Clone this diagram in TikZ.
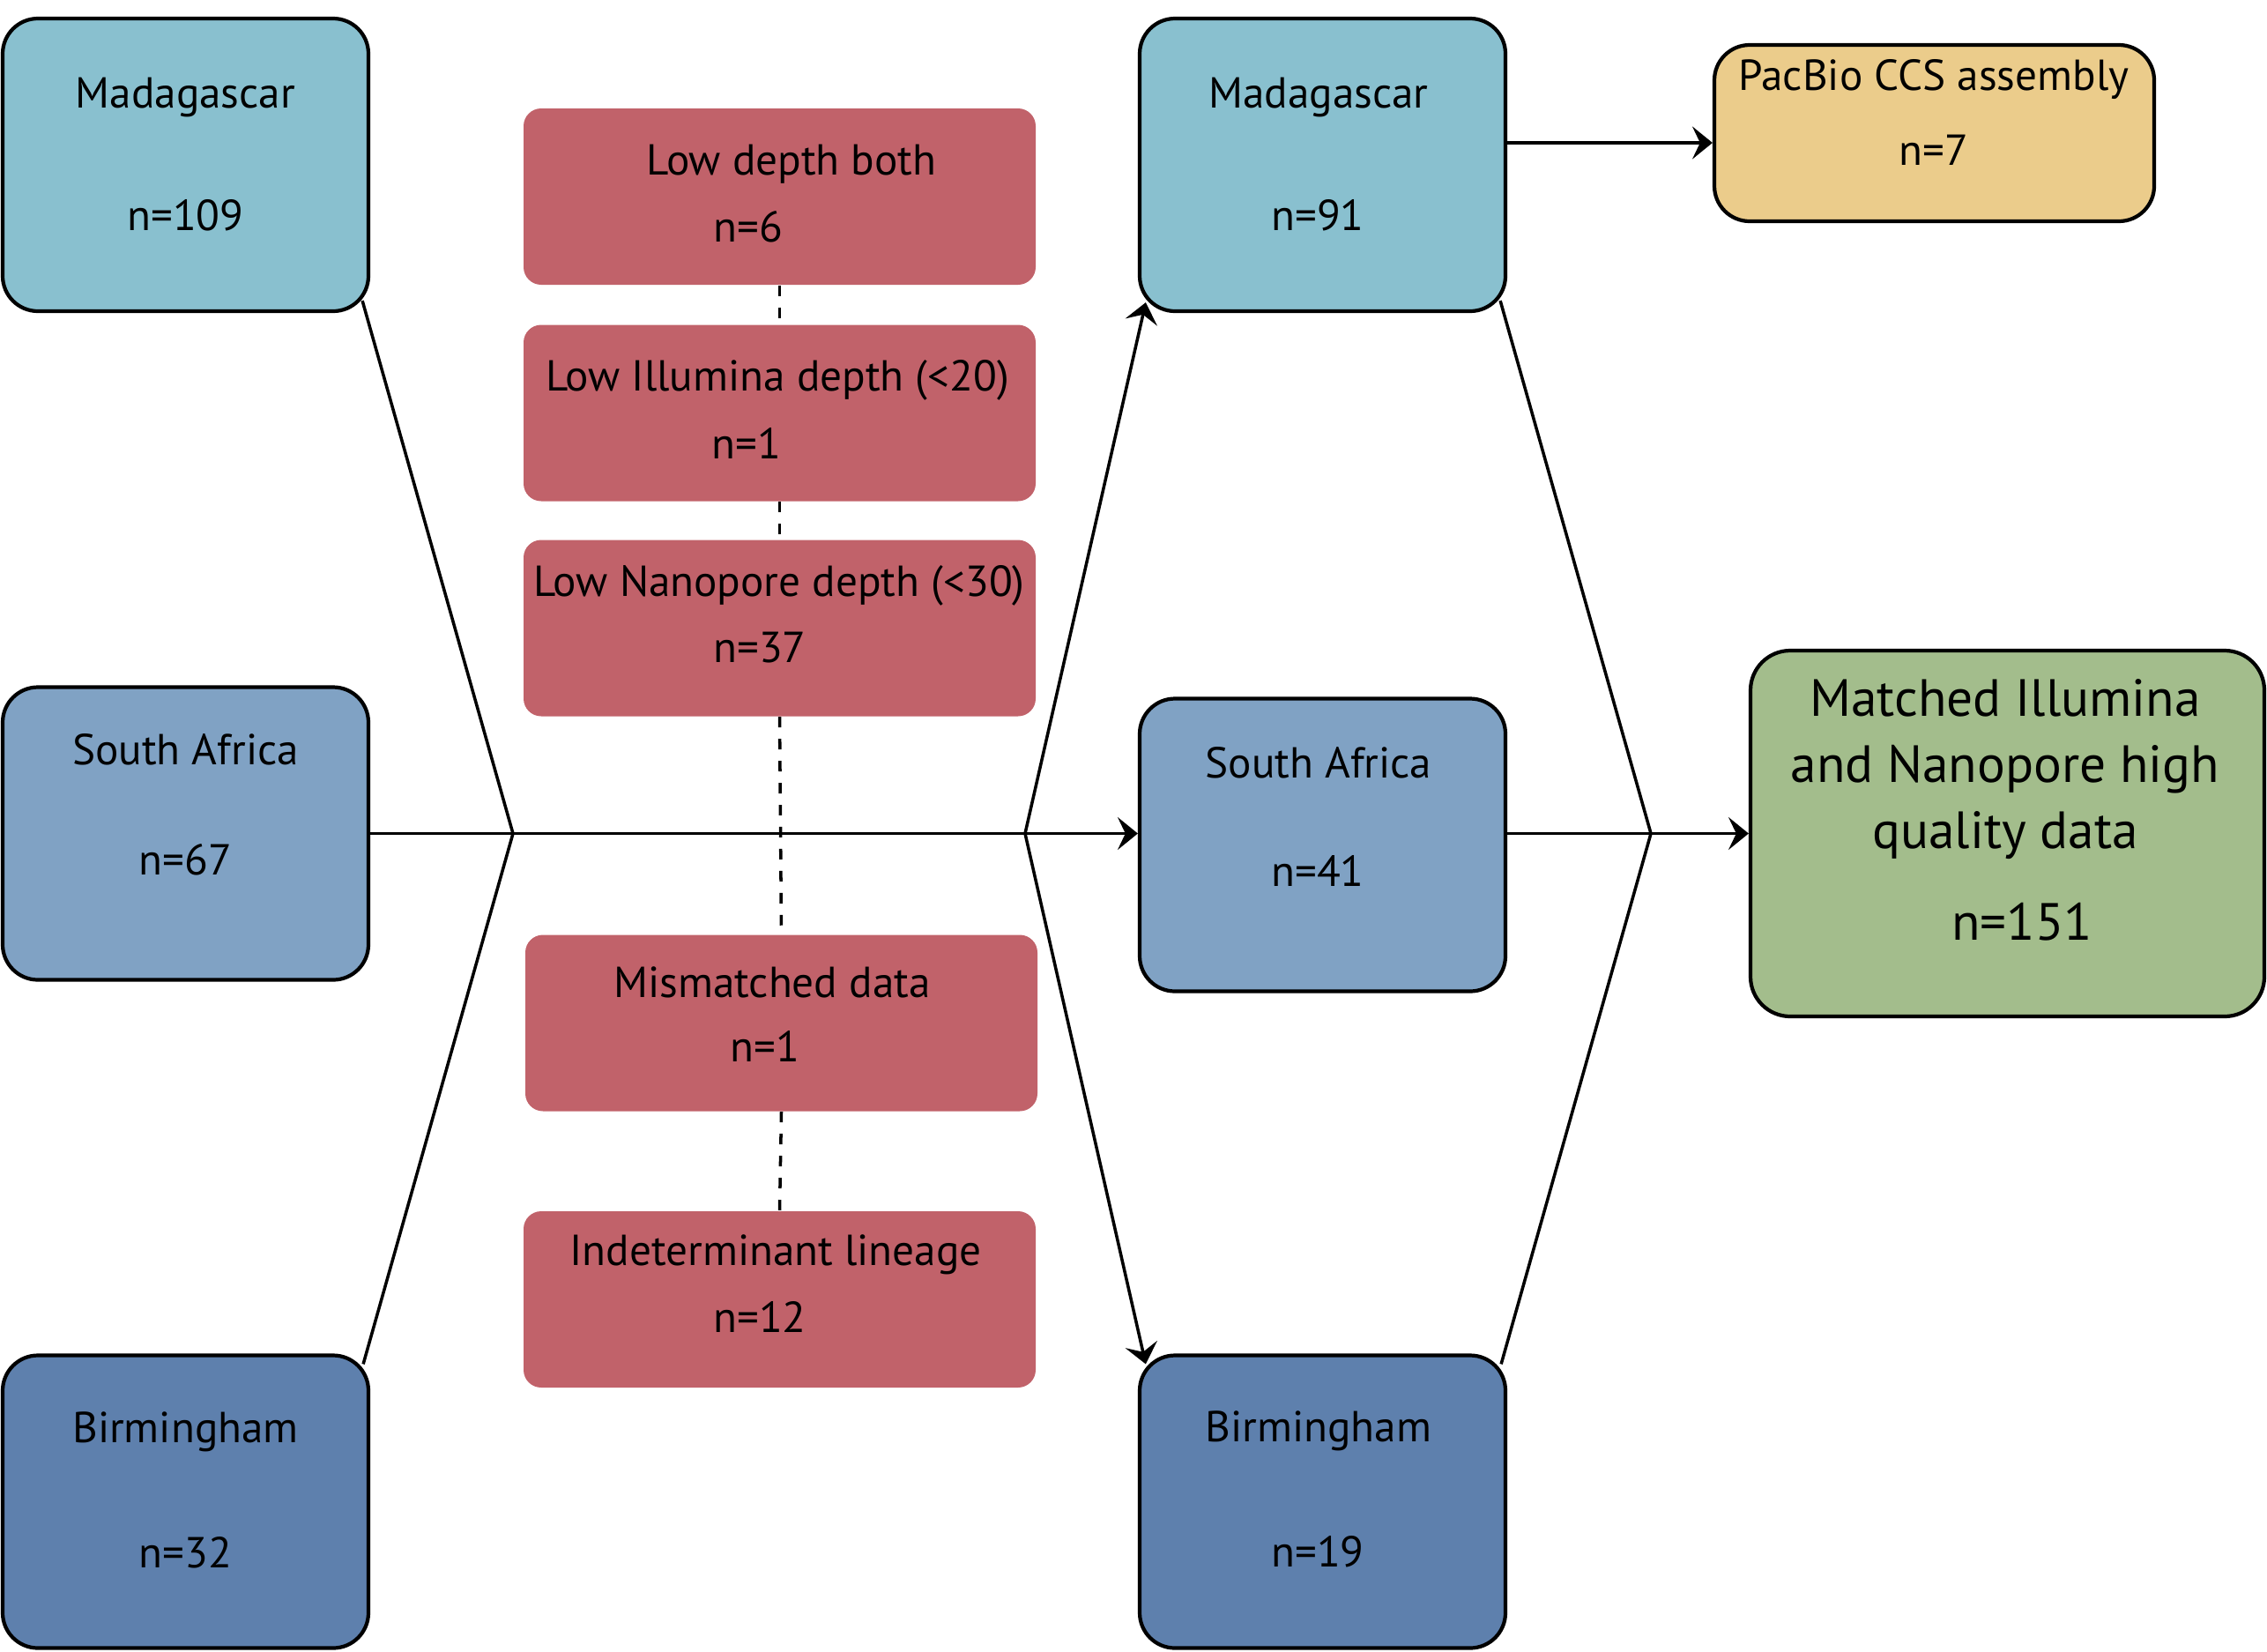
\documentclass[tikz,border=0pt]{standalone}
\usepackage{fontspec}
\setmainfont{PT Sans}
\usetikzlibrary{arrows.meta}

\definecolor{madcol}{RGB}{137,192,207}
\definecolor{sacol}{RGB}{128,162,196}
\definecolor{bircol}{RGB}{94,128,173}
\definecolor{failcol}{RGB}{193,98,106}
\definecolor{pbcol}{RGB}{235,204,139}
\definecolor{grcol}{RGB}{163,189,140}

\begin{document}
\begin{tikzpicture}[
    box/.style = {draw = black, line width = 1.2pt, rounded corners = 0.4cm, minimum width = 4.15cm, minimum height = 3.32cm, inner sep = 0},
    fail/.style = {fill = failcol, rounded corners = 0.2cm, minimum width = 5.81cm, minimum height = 2cm, inner sep = 0},
    lbl/.style = {anchor = base, inner sep = 0, font = \fontsize{14}{16.5}\selectfont},
    big/.style = {font = \fontsize{16.9}{21.3}\selectfont},
    link/.style = {line width = 1pt},
    arr/.style = {line width = 1pt, -{Stealth[length = 6.5pt, width = 10.5pt, inset = 2.5pt]}},
    skip/.style = {line width = 1pt, dash pattern = on 3.4pt off 3.7pt}
]
    \useasboundingbox (0, 0) rectangle (25.72, -18.73);

    % sites before filtering
    \foreach \n/\y/\c/\t/\k/\ty/\ky in {mad1/-1.87/madcol/Madagascar/109/-1.22/-2.61,
                                        sa1/-9.455/sacol/South Africa/67/-8.67/-9.92,
                                        bir1/-17.035/bircol/Birmingham/32/-16.36/-17.78} {
        \node [box, fill = \c] (\n) at (2.105, \y) {};
        \node [lbl] (\n-t) at (2.105, \ty) {\t};
        \node [lbl] (\n-k) at (2.105, \ky) {n=\k};
    }

    % sites after filtering
    \foreach \n/\y/\c/\t/\k/\ty/\ky in {mad2/-1.87/madcol/Madagascar/91/-1.22/-2.61,
                                        sa2/-9.585/sacol/South Africa/41/-8.82/-10.05,
                                        bir2/-17.035/bircol/Birmingham/19/-16.35/-17.77} {
        \node [box, fill = \c] (\n) at (15.005, \y) {};
        \node [lbl] (\n-t) at (14.96, \ty) {\t};
        \node [lbl] (\n-k) at (14.95, \ky) {n=\k};
    }

    % excluded samples
    \foreach \n/\x/\y/\t/\tx/\ty/\k/\kx/\ky in {lowboth/8.845/-2.23/Low depth both/8.98/-1.98/6/8.49/-2.74,
                                                lowillu/8.845/-4.685/Low Illumina depth (<20)/8.82/-4.43/1/8.47/-5.20,
                                                lownano/8.845/-7.125/Low Nanopore depth (<30)/8.84/-6.76/37/8.62/-7.51,
                                                mism/8.865/-11.605/Mismatched data/8.76/-11.31/1/8.68/-12.04,
                                                indet/8.845/-14.74/Indeterminant lineage/8.80/-14.35/12/8.62/-15.11} {
        \node [fail] (\n) at (\x, \y) {};
        \node [lbl] (\n-t) at (\tx, \ty) {\t};
        \node [lbl] (\n-k) at (\kx, \ky) {n=\k};
    }

    \draw [skip] (lowboth.south) -- (lowillu.north);
    \draw [skip] (lowillu.south) -- (lownano.north);
    \draw [skip] (lownano.south) -- (mism.north);
    \draw [skip] (mism.south) -- (indet.north);

    \node [box, fill = pbcol, minimum width = 4.99cm, minimum height = 2cm] (pacbio) at (21.945, -1.51) {};
    \node [lbl] (pacbio-t) at (21.94, -1.02) {PacBio CCS assembly};
    \node [lbl] (pacbio-k) at (21.94, -1.87) {n=7};

    \node [box, fill = grcol, rounded corners = 0.45cm, minimum width = 5.83cm, minimum height = 4.15cm] (green) at (22.775, -9.455) {};
    % base of the last line
    \node [lbl, big, align = center] (green-t) at (22.75, -9.62) {Matched Illumina\\and Nanopore high\\quality data};
    \node [lbl, big] (green-k) at (22.94, -10.66) {n=151};

    % junctions
    \coordinate (jL) at (5.82, -9.455);
    \coordinate (jM) at (11.63, -9.455);
    \coordinate (jR) at (18.73, -9.455);

    \draw [link] ([shift = {(-0.09, 0.14)}]mad1.south east) -- (jL) -- ([shift = {(-0.08, -0.12)}]bir1.north east);
    \draw [arr] (sa1.east) -- (sa2.west |- sa1.east);
    \draw [arr] (jM) -- ([shift = {(0.09, 0.12)}]mad2.south west);
    \draw [arr] (jM) -- ([shift = {(0.09, -0.12)}]bir2.north west);
    \draw [link] ([shift = {(-0.08, 0.14)}]mad2.south east) -- (jR) -- ([shift = {(-0.07, -0.12)}]bir2.north east);
    \draw [arr] (sa2.east |- sa1.east) -- (green.west);
    \draw [arr] ([yshift = 0.25cm]mad2.east) -- ([yshift = 0.25cm]mad2.east -| pacbio.west);

\end{tikzpicture}
\end{document}
